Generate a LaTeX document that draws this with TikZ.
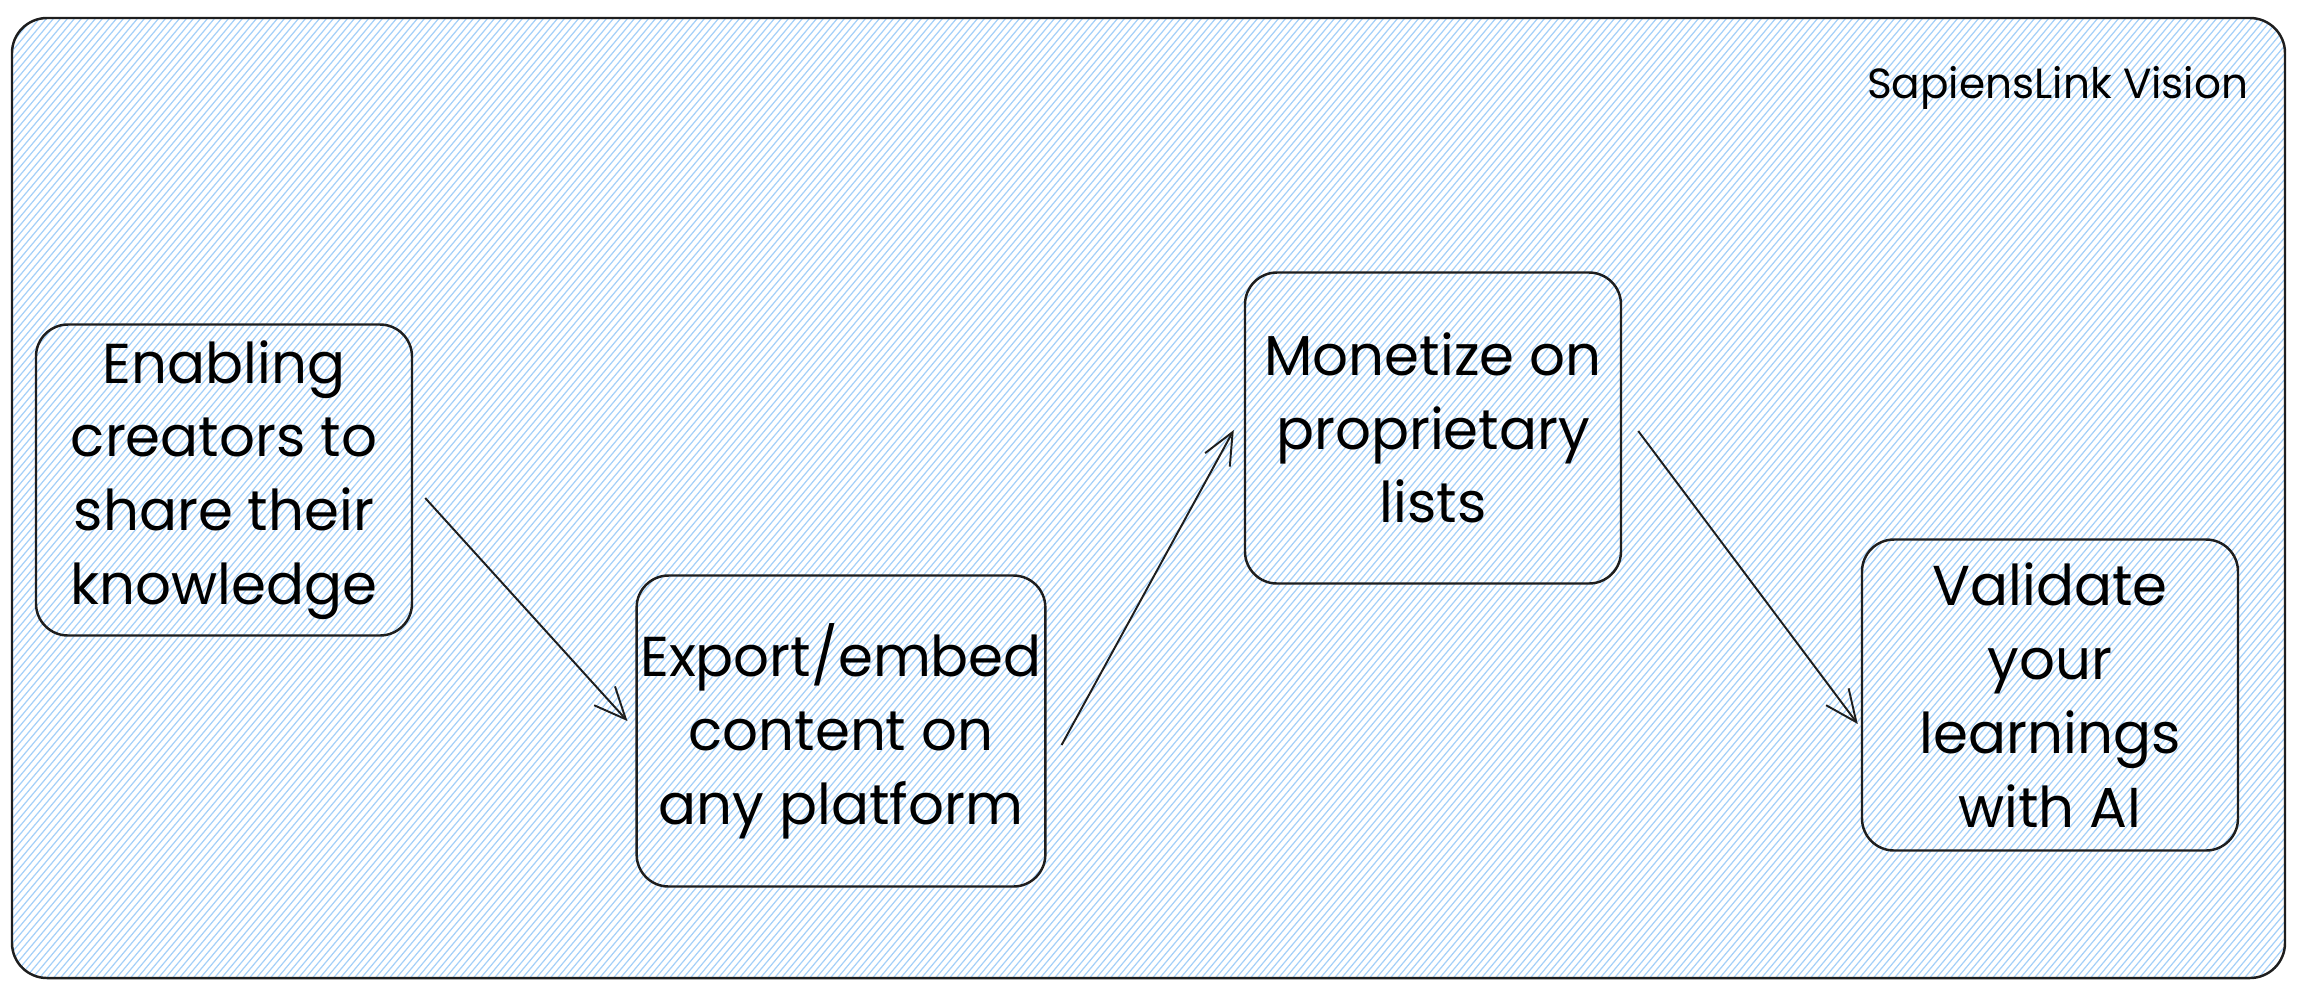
\documentclass[tikz,border=0pt]{standalone}
\usepackage{fontspec}
\setmainfont{Poppins}
\usepackage{tikz}
\usetikzlibrary{arrows.meta}
\definecolor{hatch}{RGB}{165,208,248}
\definecolor{ink}{RGB}{30,30,30}
\tikzset{
   idea/.style={draw=ink, line width=0.7pt, rounded corners=3.2mm,
      minimum width=37.6mm, minimum height=31.1mm, align=center,
      inner sep=1pt, font=\fontsize{16}{21}\selectfont},
   flow/.style={draw=ink, line width=0.55pt,
      -{Straight Barb[length=9pt,width=8pt]}},
    }
\begin{document}
\begin{tikzpicture}[x=0.1mm,y=-0.1mm]
        \useasboundingbox (0,0) rectangle (2300,988);
        % frame with hatching
        \begin{scope}
            \clip[rounded corners=3.5mm] (12,18) rectangle (2285,978);
            \foreach \i in {-840,-833,...,2300}
                \draw[hatch,line width=0.35pt] (\i,1000) -- ++(839,-1000);
        \end{scope}
        \draw[ink,line width=0.7pt,rounded corners=3.5mm] (12,18) rectangle (2285,978);
        \node[anchor=east,inner sep=0pt,font=\fontsize{12}{14}\selectfont] (title) at (2249,88) {SapiensLink Vision};
        % steps
        \node[idea] (enable) at (224,480) {Enabling\\creators to\\share their\\knowledge};
        \node[idea,minimum width=40.8mm] (export) at (841,731) {Export/embed\\content on\\any platform};
        \node[idea] (monetize) at (1433,428) {Monetize on\\proprietary\\lists};
        \node[idea] (validate) at (2050,695) {Validate\\your\\learnings\\with AI};
        % arrows
        \draw[flow] ([xshift=1.2mm,yshift=-1.8mm]enable.east) -- ([xshift=-0.8mm,yshift=1mm]export.west);
        \draw[flow] ([xshift=1.5mm,yshift=-1.4mm]export.east) -- ([xshift=-1mm,yshift=-0.2mm]monetize.west);
        \draw[flow] ([xshift=1.6mm,yshift=-0.3mm]monetize.east) -- ([xshift=-0.3mm,yshift=-2.9mm]validate.west);
\end{tikzpicture}
\end{document}
